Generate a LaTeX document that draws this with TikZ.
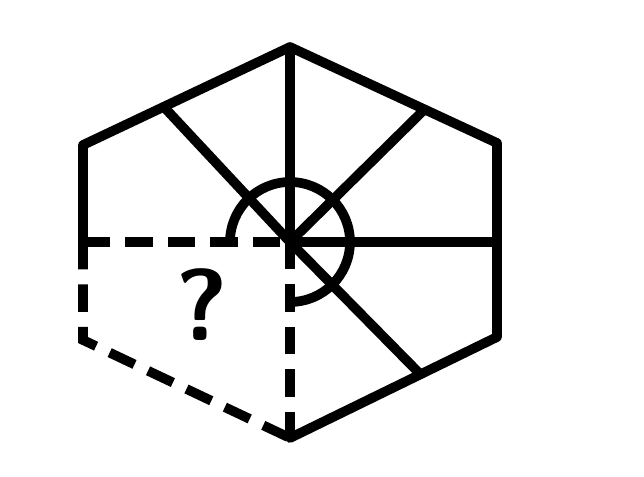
\documentclass[tikz,border=0pt]{standalone}
\usepackage{tikz}
\usetikzlibrary{calc}
\begin{document}
\begin{tikzpicture}[x=0.02cm,y=-0.02cm,
 edge/.style={line width=5.5pt,line cap=round,line join=round},
 hidden/.style={line width=5.5pt,dash pattern=on 0.55cm off 0.3cm},
 qlabel/.style={font=\fontsize{58}{58}\selectfont\sffamily\bfseries,inner sep=0pt}]
\useasboundingbox (0,0) rectangle (644,476);
% hexagon corners
\coordinate (top) at (290,47); \coordinate (ur) at (497,143);
\coordinate (lr) at (497,337); \coordinate (bot) at (290,438);
\coordinate (ll) at (83,340); \coordinate (ul) at (83,145);
\coordinate (O) at (290,242); \coordinate (ml) at (83,242);
\coordinate (mr) at (497,242);
% solid outline
\draw[edge] (ml) -- (ul) -- (top) -- (ur) -- (lr) -- (bot);
% spokes
\draw[edge] (O) -- (top); \draw[edge] (O) -- (mr);
\draw[edge] (O) -- ($(ul)!0.39!(top)$);
\draw[edge] (O) -- ($(top)!0.65!(ur)$);
\draw[edge] (O) -- ($(lr)!0.37!(bot)$);
% angle arc
\draw[edge] ($(O)+(-60,0)$) arc[start angle=180,end angle=450,radius=60];
% hidden part
\draw[hidden] (ml) -- (O); \draw[hidden] (O) -- (bot);
\draw[hidden] (ml) -- (ll) -- (bot);
\node[qlabel] (q) at (202,305) {?};
\end{tikzpicture}
\end{document}
